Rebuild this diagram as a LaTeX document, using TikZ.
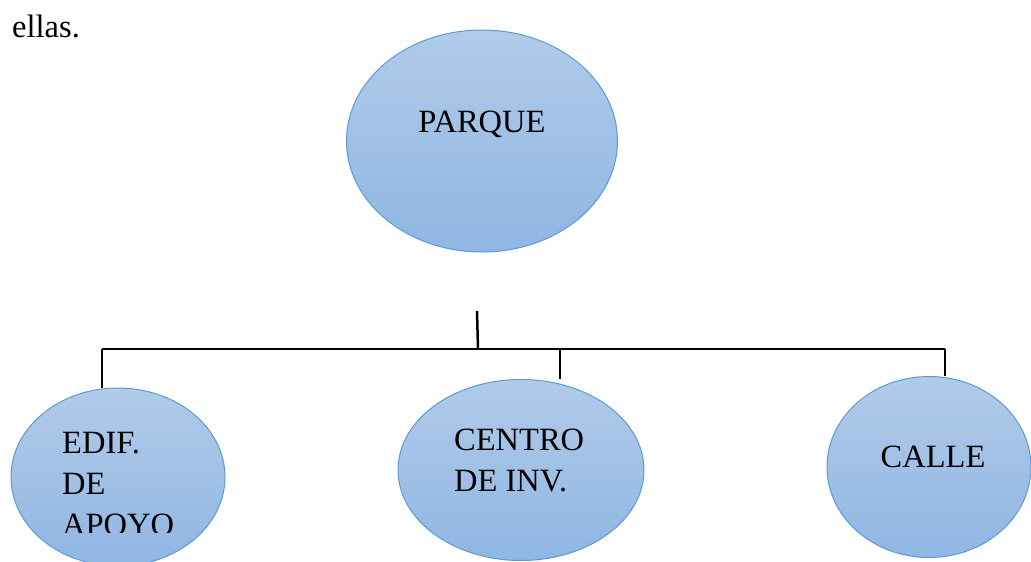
\documentclass[tikz,border=0pt]{standalone}
\usepackage{fontspec}
\setmainfont{Liberation Serif}
\usetikzlibrary{shapes.geometric,backgrounds}
\definecolor{btop}{HTML}{B1CBE9}
\definecolor{bbot}{HTML}{90B6E3}
\definecolor{bedge}{HTML}{5B9BD5}
\tikzset{
  bubble/.style={ellipse, draw=bedge, line width=1pt, top color=btop, bottom color=bbot, inner sep=0pt},
  lbl/.style={inner sep=0pt, anchor=base west, align=left, font=\fontsize{32.5}{41}\selectfont},
  wire/.style={line width=2.5pt, black}
}
\begin{document}
\begin{tikzpicture}[x=1pt,y=-1pt]
\useasboundingbox (0,0) rectangle (1031,562);
% leading text
\node[lbl] (ellas) at (12,37) {ellas.};
% connector points
\coordinate (stemtop) at (477,311);
\coordinate (stembot) at (478,349);
\coordinate (busL) at (102,349);
\coordinate (busM) at (560,349);
\coordinate (busR) at (945,349);
% nodes
\node[bubble, minimum width=271pt, minimum height=222pt] (parque) at (482,141) {};
\node[bubble, minimum width=214pt, minimum height=178pt] (edif) at (118,477) {};
\node[bubble, minimum width=246pt, minimum height=181pt] (centro) at (521,470) {};
\node[bubble, minimum width=204pt, minimum height=181pt] (calle) at (929,467) {};
\begin{pgfonlayer}{background}
\draw[wire] (stemtop) -- (stembot);
\draw[wire] (busL) -- (busR);
\draw[wire] (busL) -- (busL |- edif.north);
\draw[wire] (busM) -- (busM |- centro.north);
\draw[wire] (busR) -- (busR |- calle.north);
\end{pgfonlayer}
% labels
\node[lbl, anchor=base] (tparque) at (482,132) {PARQUE};
\begin{scope}
\clip (0,0) rectangle (1031,532);
\node[lbl] (tedif) at (62,535) {EDIF.\\DE\\APOYO};
\end{scope}
\node[lbl] (tcentro) at (454,491) {CENTRO\\DE INV.};
\node[lbl, anchor=base] (tcalle) at (933,467) {CALLE};
\end{tikzpicture}
\end{document}
